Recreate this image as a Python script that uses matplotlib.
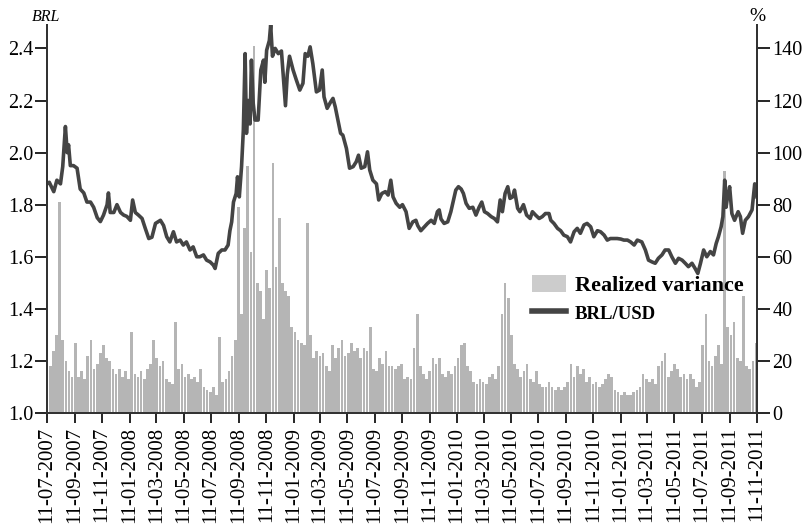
import matplotlib
matplotlib.use("Agg")
import matplotlib.pyplot as plt
import matplotlib.dates as mdates
import pandas as pd

start = pd.Timestamp("2007-07-11")

# BRL/USD spot, day offsets from the start date
fx_day = [
    0, 5, 15, 22, 30, 35, 41, 45, 48, 52,
    59, 67, 74, 82, 89, 97, 104, 112, 119, 126,
    134, 137, 141, 149, 156, 164, 171, 178, 186, 191,
    197, 204, 212, 219, 227, 234, 242, 253, 260, 267,
    274, 282, 289, 297, 304, 311, 319, 326, 334, 341,
    349, 356, 364, 371, 375, 382, 390, 397, 404, 408,
    412, 416, 422, 425, 429, 434, 438, 442, 445, 449,
    453, 456, 460, 464, 471, 477, 483, 486, 490, 496,
    499, 503, 509, 516, 523, 529, 532, 536, 541, 549,
    556, 564, 571, 576, 582, 587, 593, 601, 608, 614,
    618, 625, 633, 638, 643, 649, 655, 660, 668, 675,
    683, 690, 695, 701, 709, 715, 720, 727, 735, 740,
    747, 755, 761, 767, 772, 779, 787, 793, 801, 808,
    816, 823, 827, 834, 842, 849, 857, 864, 871, 875,
    879, 886, 894, 901, 906, 912, 918, 924, 929, 935,
    942, 950, 957, 964, 970, 976, 983, 991, 998, 1005,
    1011, 1016, 1022, 1028, 1033, 1039, 1043, 1050, 1055, 1063,
    1070, 1078, 1083, 1090, 1098, 1105, 1112, 1120, 1124, 1131,
    1139, 1146, 1153, 1161, 1168, 1176, 1183, 1190, 1198, 1205,
    1213, 1220, 1228, 1235, 1243, 1250, 1257, 1265, 1272, 1280,
    1287, 1295, 1302, 1310, 1317, 1327, 1335, 1342, 1350, 1357,
    1364, 1372, 1379, 1387, 1394, 1402, 1409, 1417, 1424, 1431,
    1439, 1446, 1452, 1458, 1465, 1472, 1480, 1487, 1493, 1498,
    1504, 1508, 1512, 1515, 1519, 1523, 1528, 1534, 1542, 1547,
    1552, 1558, 1565, 1573, 1579, 1584,
]
brl_usd = [
    1.88, 1.886, 1.85, 1.894, 1.88, 1.946, 2.10, 2.00, 2.03, 1.95,
    1.95, 1.94, 1.86, 1.845, 1.81, 1.81, 1.79, 1.75, 1.735, 1.76,
    1.80, 1.845, 1.77, 1.77, 1.80, 1.77, 1.76, 1.755, 1.74, 1.818,
    1.77, 1.76, 1.747, 1.71, 1.67, 1.675, 1.728, 1.74, 1.72, 1.677,
    1.657, 1.696, 1.657, 1.664, 1.645, 1.657, 1.626, 1.638, 1.60, 1.60,
    1.607, 1.587, 1.58, 1.568, 1.555, 1.613, 1.626, 1.626, 1.645, 1.70,
    1.734, 1.81, 1.843, 1.907, 1.83, 1.946, 2.086, 2.38, 2.074, 2.20,
    2.11, 2.355, 2.19, 2.125, 2.125, 2.317, 2.355, 2.27, 2.393, 2.43,
    2.49, 2.37, 2.40, 2.38, 2.39, 2.25, 2.18, 2.30, 2.37, 2.317,
    2.28, 2.24, 2.266, 2.38, 2.37, 2.406, 2.342, 2.233, 2.24, 2.317,
    2.214, 2.17, 2.195, 2.208, 2.176, 2.125, 2.074, 2.067, 2.016, 1.94,
    1.946, 1.965, 1.99, 1.94, 1.946, 2.003, 1.933, 1.894, 1.88, 1.818,
    1.843, 1.85, 1.837, 1.894, 1.83, 1.805, 1.79, 1.80, 1.773, 1.709,
    1.734, 1.74, 1.72, 1.70, 1.715, 1.728, 1.74, 1.728, 1.773, 1.78,
    1.745, 1.728, 1.734, 1.773, 1.81, 1.856, 1.869, 1.86, 1.843, 1.805,
    1.786, 1.79, 1.76, 1.79, 1.81, 1.773, 1.766, 1.754, 1.747, 1.734,
    1.818, 1.773, 1.843, 1.869, 1.824, 1.83, 1.856, 1.786, 1.773, 1.80,
    1.76, 1.747, 1.773, 1.76, 1.747, 1.754, 1.766, 1.766, 1.74, 1.728,
    1.709, 1.70, 1.683, 1.677, 1.657, 1.696, 1.709, 1.69, 1.722, 1.728,
    1.715, 1.677, 1.70, 1.696, 1.683, 1.664, 1.67, 1.67, 1.67, 1.668,
    1.664, 1.664, 1.657, 1.645, 1.664, 1.657, 1.626, 1.587, 1.58, 1.575,
    1.594, 1.607, 1.626, 1.626, 1.60, 1.575, 1.594, 1.587, 1.575, 1.562,
    1.575, 1.555, 1.536, 1.575, 1.626, 1.60, 1.62, 1.607, 1.651, 1.677,
    1.715, 1.754, 1.894, 1.79, 1.837, 1.869, 1.766, 1.74, 1.773, 1.754,
    1.69, 1.74, 1.754, 1.78, 1.88, 1.83,
]

# weekly realized variance (%)
rv = [
    12, 18, 24, 30, 81, 28, 20, 16, 14, 27,
    14, 16, 13, 22, 28, 17, 19, 23, 26, 21,
    20, 17, 15, 17, 14, 16, 13, 31, 15, 14,
    16, 13, 17, 19, 28, 21, 18, 20, 13, 12,
    11, 35, 17, 19, 14, 15, 13, 14, 12, 17,
    10, 9, 8, 10, 7, 29, 12, 13, 16, 22,
    28, 79, 38, 71, 95, 62, 141, 50, 47, 36,
    55, 48, 96, 56, 75, 50, 47, 45, 33, 31,
    28, 27, 26, 73, 30, 21, 24, 22, 23, 18,
    16, 26, 21, 25, 28, 22, 23, 27, 24, 25,
    21, 25, 24, 33, 17, 16, 21, 19, 24, 18,
    18, 17, 18, 19, 13, 14, 13, 25, 38, 18,
    15, 13, 16, 21, 19, 21, 15, 14, 16, 15,
    18, 21, 26, 27, 18, 16, 12, 11, 13, 12,
    11, 14, 15, 13, 18, 38, 50, 44, 30, 19,
    17, 14, 16, 19, 13, 12, 16, 11, 10, 10,
    12, 10, 9, 10, 9, 10, 12, 19, 14, 18,
    15, 17, 12, 14, 11, 12, 10, 11, 13, 15,
    14, 9, 8, 7, 8, 7, 7, 8, 9, 10,
    15, 13, 12, 13, 11, 18, 20, 23, 14, 16,
    19, 17, 14, 15, 13, 15, 13, 10, 12, 26,
    38, 20, 18, 22, 26, 19, 93, 33, 30, 35,
    21, 20, 45, 18, 17, 20, 27,
]

fx_dates = start + pd.to_timedelta(fx_day, unit="D")
rv_dates = pd.date_range(start, periods=len(rv), freq="7D")
tick_dates = pd.date_range("2007-07-01", "2011-11-30", freq="2MS") + pd.Timedelta(days=10)

plt.rcParams["font.family"] = "Liberation Serif"

fig = plt.figure(figsize=(8.04, 5.27), dpi=100)
ax = fig.add_axes([0.0585, 0.2163, 0.883, 0.7363])
ax2 = ax.twinx()

ax2.bar(rv_dates, rv, width=6.0, color="#b5b5b5", linewidth=0, label="Realized variance")
ax.plot(fx_dates, brl_usd, color="#444444", lw=2.6, label="BRL/USD")

# keep the exchange-rate line above the bars
ax.set_zorder(ax2.get_zorder() + 1)
ax.patch.set_visible(False)

ax.set_xlim(start, pd.Timestamp("2011-11-11"))
ax.set_ylim(1.0, 2.49)
ax2.set_ylim(0, 149)
left_ticks = [1.0, 1.2, 1.4, 1.6, 1.8, 2.0, 2.2, 2.4]
ax.set_yticks(left_ticks)
ax.set_yticklabels([f"{v:.1f}" for v in left_ticks])
ax2.set_yticks(range(0, 141, 20))

ax.set_xticks(tick_dates)
ax.xaxis.set_major_formatter(mdates.DateFormatter("%d-%m-%Y"))
plt.setp(ax.get_xticklabels(), rotation=90)

for a in (ax, ax2):
    a.spines["top"].set_visible(False)
    for s in ("left", "right", "bottom"):
        a.spines[s].set_linewidth(1.4)
        a.spines[s].set_color("#333333")
ax.tick_params(axis="y", length=9, width=1.2, labelsize=14.5, pad=1)
ax2.tick_params(axis="y", length=9, width=1.2, labelsize=14.5, pad=2)
ax.tick_params(axis="x", length=7, width=1.2, labelsize=15, pad=3)

fig.text(0.040, 0.968, "BRL", fontstyle="italic", fontsize=11.5, va="center")
fig.text(0.932, 0.968, "%", fontsize=14, va="center")

h1, l1 = ax2.get_legend_handles_labels()
h2, l2 = ax.get_legend_handles_labels()
leg = ax.legend(h1 + h2, l1 + l2, loc="upper left", bbox_to_anchor=(0.683, 0.356),
                frameon=False, prop={"weight": "bold", "size": 16},
                handlelength=1.55, handleheight=0.8, handletextpad=0.38,
                borderpad=0, borderaxespad=0, labelspacing=0.3)
leg.get_texts()[1].set_fontsize(13.5)
leg.legend_handles[0].set_facecolor("#cccccc")
leg.legend_handles[1].set_linewidth(4)

fig.savefig("out.png", dpi=100)
